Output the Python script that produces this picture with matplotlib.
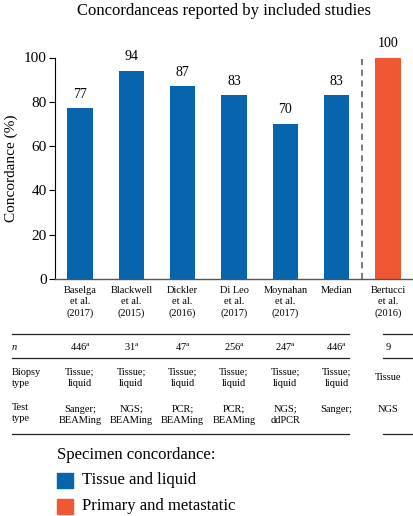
import matplotlib
matplotlib.use("Agg")
import matplotlib.pyplot as plt
import matplotlib.transforms as mtransforms
from matplotlib.lines import Line2D
from matplotlib.patches import Rectangle

plt.rcParams['font.family'] = ['Liberation Serif', 'DejaVu Serif']
plt.rcParams['mathtext.fontset'] = 'custom'
plt.rcParams['mathtext.rm'] = 'Liberation Serif'
plt.rcParams['mathtext.it'] = 'Liberation Serif:italic'

# data
studies = ["Baselga\net al.\n(2017)", "Blackwell\net al.\n(2015)", "Dickler\net al.\n(2016)",
           "Di Leo\net al.\n(2017)", "Moynahan\net al.\n(2017)", "Median", "Bertucci\net al.\n(2016)"]
concordance = [77, 94, 87, 83, 70, 83, 100]
group = ["tl", "tl", "tl", "tl", "tl", "tl", "pm"]
n_values = ["446", "31", "47", "256", "247", "446", "9"]
n_sup = [True, True, True, True, True, True, False]
biopsy = ["Tissue;\nliquid"] * 6 + ["Tissue"]
test = ["Sanger;\nBEAMing", "NGS;\nBEAMing", "PCR;\nBEAMing", "PCR;\nBEAMing", "NGS;\nddPCR", "Sanger;", "NGS"]

colors = {"tl": "#0765AE", "pm": "#EF5832"}
legend_labels = {"tl": "Tissue and liquid", "pm": "Primary and metastatic"}

W, H = 414, 516
fig = plt.figure(figsize=(W / 100, H / 100), dpi=100)

def fy(p):
    return 1 - p / H

ax_left, ax_right, ax_top, ax_bot = 55, 414, 57.5, 279
ax = fig.add_axes([ax_left / W, fy(ax_bot), (ax_right - ax_left) / W, (ax_bot - ax_top) / H])

x = list(range(len(studies)))
ax.bar(x, concordance, width=0.49, color=[colors[g] for g in group], zorder=2)
for xi, v in zip(x, concordance):
    ax.annotate(str(v), (xi, v), xytext=(0, 5.5), textcoords='offset points',
                ha='center', va='bottom', fontsize=10, annotation_clip=False)

px_unit = (388 - 80) / 6
ax.set_xlim(-(80 - ax_left) / px_unit, (ax_right - 80) / px_unit)
ax.set_ylim(0, 100)
ax.set_yticks([0, 20, 40, 60, 80, 100])
ax.tick_params(axis='y', labelsize=11, length=4, width=0.8, direction='out', pad=2)
ax.set_xticks([])
ax.set_ylabel("Concordance (%)", fontsize=11, labelpad=4)
ax.spines['top'].set_visible(False)
ax.spines['right'].set_visible(False)
ax.spines['left'].set_linewidth(0.8)
ax.spines['bottom'].set_linewidth(1.0)
ax.spines['bottom'].set_color('#555555')
ax.axvline(5.5, color='#555555', ls=(0, (4, 3)), lw=1.1)

fig.text(0.54, fy(11), "Concordanceas reported by included studies", ha='center', va='center', fontsize=12)

tr = mtransforms.blended_transform_factory(ax.transData, fig.transFigure)

# category labels
for xi, s in zip(x, studies):
    ax.text(xi, fy(286), s, transform=tr, ha='center', va='top', fontsize=7.5, linespacing=1.3)

# table lines
for yp in [334, 358, 434]:
    fig.add_artist(Line2D([12 / W, 349 / W], [fy(yp), fy(yp)], color='#222222', lw=0.9))
    fig.add_artist(Line2D([383 / W, 1.0], [fy(yp), fy(yp)], color='#222222', lw=0.9))

# row labels
fig.text(12 / W, fy(347), "n", style='italic', ha='left', va='center', fontsize=7.5)
fig.text(12 / W, fy(378), "Biopsy\ntype", ha='left', va='center', fontsize=7.5, linespacing=1.3)
fig.text(12 / W, fy(413), "Test\ntype", ha='left', va='center', fontsize=7.5, linespacing=1.3)

for xi, nv, sup, b, t in zip(x, n_values, n_sup, biopsy, test):
    label = nv + (r"$^{\mathrm{a}}$" if sup else "")
    ax.text(xi, fy(347), label, transform=tr, ha='center', va='center', fontsize=7.5)
    ax.text(xi, fy(378), b, transform=tr, ha='center', va='center', fontsize=7.5, linespacing=1.3)
    if "\n" in t:
        ax.text(xi, fy(415), t, transform=tr, ha='center', va='center', fontsize=7.5, linespacing=1.3)
    else:
        ax.text(xi, fy(409), t, transform=tr, ha='center', va='center', fontsize=7.5)

# legend
fig.text(57 / W, fy(455), "Specimen concordance:", ha='left', va='center', fontsize=12)
for yp, g in [(480, "tl"), (506, "pm")]:
    fig.add_artist(Rectangle((57 / W, fy(yp + 7.5)), 16 / W, 15 / H, color=colors[g],
                             transform=fig.transFigure))
    fig.text(82 / W, fy(yp), legend_labels[g], ha='left', va='center', fontsize=12)

fig.savefig("out.png", dpi=100)
